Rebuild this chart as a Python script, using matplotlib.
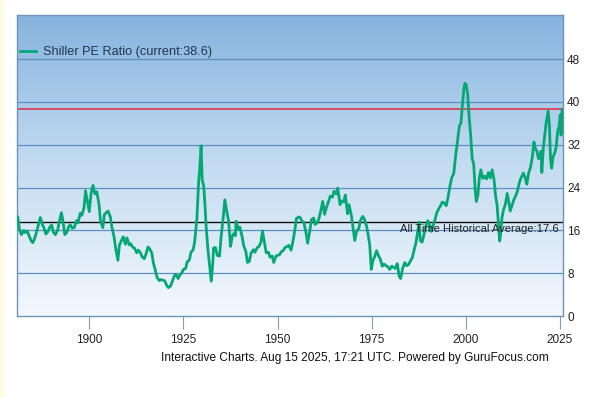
import numpy as np
import matplotlib
matplotlib.use("Agg")
import matplotlib.pyplot as plt
from matplotlib.colors import LinearSegmentedColormap

# Shiller PE: (fractional year, value)
points = [
    (1881, 18.5), (1881.5, 16.0), (1882, 15.2), (1882.6, 16.0), (1883, 15.6), (1883.5, 15.9),
    (1884, 15.0), (1884.6, 14.0), (1885, 13.7), (1885.5, 14.5), (1886, 15.7), (1886.6, 17.3),
    (1887, 18.4), (1887.6, 17.0), (1888, 16.4), (1888.5, 15.3), (1889, 15.8), (1889.6, 16.7),
    (1890, 17.0), (1890.5, 15.6), (1891, 15.2), (1891.6, 16.0), (1892, 17.5), (1892.6, 19.3),
    (1893, 17.8), (1893.5, 15.2), (1894, 15.6), (1894.6, 16.8), (1895, 17.0), (1895.5, 16.4),
    (1896, 16.5), (1896.6, 17.8), (1897, 17.4), (1897.6, 19.2), (1898, 18.8), (1898.6, 20.2),
    (1899, 23.4), (1899.5, 21.5), (1900, 19.5), (1900.5, 23.0), (1901, 24.4), (1901.5, 22.8),
    (1902, 23.2), (1902.6, 20.8), (1903, 17.6), (1903.6, 16.5), (1904, 18.9), (1904.6, 19.4),
    (1905, 19.6), (1905.6, 18.5), (1906, 16.6), (1906.6, 14.7), (1907, 12.7), (1907.6, 10.4),
    (1908, 13.2), (1908.6, 14.2), (1909, 14.8), (1909.6, 13.4), (1910, 14.6), (1910.6, 13.3),
    (1911, 13.5), (1911.6, 12.8), (1912, 12.7), (1912.6, 11.8), (1913, 12.3), (1913.6, 11.8),
    (1914, 11.1), (1914.6, 10.7), (1915, 11.4), (1915.6, 12.9), (1916, 12.6), (1916.6, 11.8),
    (1917, 10.0), (1917.6, 8.4), (1918, 7.2), (1918.6, 6.6), (1919, 6.8), (1919.6, 6.7),
    (1920, 6.6), (1920.6, 5.7), (1921, 5.3), (1921.6, 5.6), (1922, 6.4), (1922.6, 7.5),
    (1923, 7.8), (1923.6, 7.0), (1924, 7.6), (1924.6, 8.1), (1925, 8.7), (1925.6, 8.9),
    (1926, 10.1), (1926.6, 10.5), (1927, 11.9), (1927.6, 12.4), (1928, 13.9), (1928.6, 18.3),
    (1929, 24.5), (1929.4, 28.2), (1929.7, 31.8), (1930, 25.4), (1930.4, 24.3), (1930.8, 19.9),
    (1931, 17.1), (1931.5, 12.5), (1932, 9.2), (1932.4, 6.5), (1932.8, 9.8), (1933, 12.7),
    (1933.5, 12.8), (1934, 11.3), (1934.6, 11.2), (1935, 14.7), (1935.6, 18.6), (1936, 21.7),
    (1936.6, 19.2), (1937, 17.8), (1937.5, 13.0), (1938, 15.0), (1938.4, 15.4), (1938.8, 15.0),
    (1939, 17.7), (1939.6, 16.2), (1940, 16.6), (1940.6, 14.8), (1941, 13.2), (1941.6, 12.0),
    (1942, 10.0), (1942.5, 10.2), (1943, 11.8), (1943.6, 12.4), (1944, 11.9), (1944.6, 12.8),
    (1945, 12.9), (1945.6, 13.8), (1946, 15.9), (1946.5, 13.8), (1947, 11.8), (1947.6, 11.9),
    (1948, 11.0), (1948.6, 11.2), (1949, 10.0), (1949.6, 11.2), (1950, 11.3), (1950.6, 11.5),
    (1951, 12.0), (1951.6, 12.3), (1952, 12.8), (1952.6, 13.0), (1953, 13.2), (1953.6, 12.3),
    (1954, 13.6), (1954.6, 16.0), (1955, 18.2), (1955.6, 18.5), (1956, 18.4), (1956.6, 17.6),
    (1957, 17.5), (1957.6, 15.4), (1958, 13.6), (1958.6, 16.0), (1959, 18.0), (1959.6, 18.3),
    (1960, 17.1), (1960.6, 17.5), (1961, 18.2), (1961.6, 20.0), (1962, 21.4), (1962.5, 19.0),
    (1963, 20.3), (1963.6, 21.5), (1964, 22.4), (1964.6, 22.2), (1965, 23.3), (1965.6, 22.8),
    (1966, 23.9), (1966.6, 20.8), (1967, 21.5), (1967.6, 21.3), (1968, 22.6), (1968.6, 19.1),
    (1969, 20.8), (1969.6, 18.8), (1970, 16.8), (1970.5, 14.1), (1971, 15.8), (1971.6, 16.4),
    (1972, 17.8), (1972.6, 18.6), (1973, 18.2), (1973.6, 16.9), (1974, 15.5), (1974.5, 13.2),
    (1974.9, 8.7), (1975.3, 10.3), (1975.8, 11.1), (1976.3, 12.2), (1976.8, 11.3), (1977.3, 10.6),
    (1977.8, 9.3), (1978.3, 9.7), (1978.8, 9.4), (1979.3, 9.2), (1979.8, 8.7), (1980.3, 9.3),
    (1980.8, 9.1), (1981.3, 8.9), (1981.8, 9.8), (1982.3, 7.5), (1982.7, 7.0), (1983.2, 8.8),
    (1983.8, 10.0), (1984.3, 9.4), (1984.8, 9.6), (1985.3, 10.3), (1985.8, 10.9), (1986.3, 12.4),
    (1986.8, 13.8), (1987.3, 16.2), (1987.6, 17.5), (1987.9, 14.1), (1988.4, 13.8), (1988.9, 15.2),
    (1989.4, 16.9), (1989.9, 17.8), (1990.4, 17.0), (1990.8, 15.8), (1991.3, 16.8), (1991.8, 17.9),
    (1992.3, 19.3), (1992.8, 20.0), (1993.3, 20.6), (1993.8, 21.3), (1994.3, 21.1), (1994.8, 20.6),
    (1995.3, 22.2), (1995.8, 24.3), (1996.3, 25.9), (1996.8, 26.6), (1997.3, 29.9), (1997.8, 32.7),
    (1998.3, 35.5), (1998.7, 36.0), (1999.1, 39.4), (1999.5, 42.5), (1999.8, 43.5), (2000.1, 43.2),
    (2000.5, 41.5), (2000.9, 37.1), (2001.3, 33.7), (2001.7, 29.4), (2002.1, 28.4), (2002.5, 23.5),
    (2002.8, 21.4), (2003.2, 22.5), (2003.6, 25.8), (2004.0, 27.3), (2004.5, 25.7), (2005.0, 26.1),
    (2005.5, 25.6), (2006.0, 26.8), (2006.5, 25.8), (2007.0, 27.3), (2007.5, 25.5), (2007.9, 22.5),
    (2008.3, 20.8), (2008.7, 16.8), (2009.0, 14.0), (2009.2, 15.0), (2009.6, 18.3), (2010.0, 19.8),
    (2010.5, 20.8), (2011.0, 22.9), (2011.4, 21.4), (2011.8, 19.6), (2012.3, 20.7), (2012.8, 21.8),
    (2013.3, 22.5), (2013.8, 23.6), (2014.3, 25.1), (2014.8, 26.0), (2015.3, 26.7), (2015.8, 25.8),
    (2016.2, 24.6), (2016.7, 26.7), (2017.2, 27.8), (2017.7, 29.8), (2018.1, 32.5), (2018.5, 31.2),
    (2018.9, 30.8), (2019.3, 29.4), (2019.7, 29.5), (2020.0, 30.8), (2020.2, 26.8), (2020.6, 31.5),
    (2021.0, 34.0), (2021.4, 36.3), (2021.9, 38.3), (2022.2, 35.8), (2022.5, 29.5), (2022.8, 27.6),
    (2023.2, 29.8), (2023.6, 30.4), (2024.0, 31.5), (2024.4, 34.5), (2024.8, 35.5), (2025.1, 37.6),
    (2025.3, 33.8), (2025.6, 38.6),
]
years = [p[0] for p in points]
pe = [p[1] for p in points]

pe_current = 38.6
pe_average = 17.6
y_ticks = [0, 8, 16, 24, 32, 40, 48]
x_ticks = [1900, 1925, 1950, 1975, 2000, 2025]

fig = plt.figure(figsize=(5.96, 3.98), dpi=100)
fig.patch.set_facecolor("white")
# faint yellow strip at the left edge of the screenshot
fig.patches.append(plt.Rectangle((0, 0), 0.007, 1, transform=fig.transFigure,
                                 color="#fdfde6", zorder=0))

ax = fig.add_axes([0.0285, 0.206, 0.916, 0.756])

cmap = LinearSegmentedColormap.from_list("bg", ["#f3f8fd", "#c4dcf1", "#86b4df"])
grad = np.linspace(0, 1, 256).reshape(-1, 1)
ax.imshow(grad, extent=[0, 1, 0, 1], transform=ax.transAxes, cmap=cmap,
          origin="lower", aspect="auto", zorder=0)

for t in y_ticks[1:]:
    ax.axhline(t, color="#5a8ec4", lw=0.9, zorder=1)
ax.axhline(pe_current, color="#e3293f", lw=1.1, zorder=2)
ax.axhline(pe_average, color="#111111", lw=1.0, zorder=2)

ax.plot(years, pe, color="#05a874", lw=2.0, zorder=3,
        label="Shiller PE Ratio (current:%.1f)" % pe_current)

ax.text(2024.6, pe_average - 0.4, "All Time Historical Average:%.1f" % pe_average,
        ha="right", va="top", fontsize=8.1, color="#222222",
        family="Liberation Sans", zorder=4)

ax.set_xlim(1880.8, 2025.8)
ax.set_ylim(0, 56.2)
ax.yaxis.tick_right()
ax.set_yticks(y_ticks)
ax.set_xticks(x_ticks)
ax.tick_params(axis="y", length=0, pad=3, labelsize=8.5, colors="#222222")
ax.tick_params(axis="x", length=9, width=0.8, color="#7f9fbf", pad=4,
               labelsize=8.5, labelcolor="#222222")
for lab in ax.get_xticklabels() + ax.get_yticklabels():
    lab.set_family("Liberation Sans")
for s in ax.spines.values():
    s.set_color("#6f93b8")
    s.set_linewidth(1.0)

leg = ax.legend(loc="upper left", bbox_to_anchor=(-0.016, 0.935), frameon=False,
                handlelength=1.3, handletextpad=0.5,
                prop={"family": "Liberation Sans", "size": 9.2})
for t in leg.get_texts():
    t.set_color("#1f3550")

fig.text(0.921, 0.100, "Interactive Charts. Aug 15 2025, 17:21 UTC. Powered by GuruFocus.com",
         ha="right", va="center", fontsize=8.6, color="#111111", family="Liberation Sans")

fig.savefig("out.png", dpi=100)
